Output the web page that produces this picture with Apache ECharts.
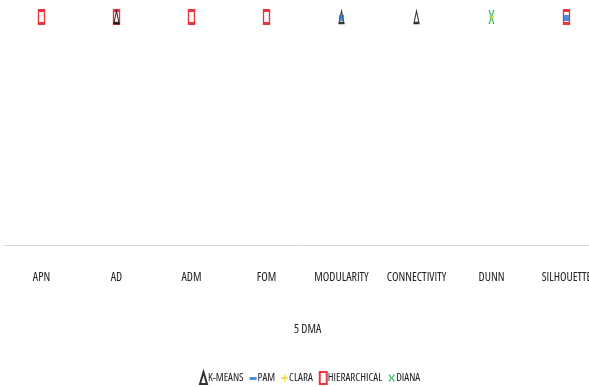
<!DOCTYPE html>
<html>
<head>
<meta charset="utf-8">
<script src="https://cdn.jsdelivr.net/npm/echarts@6/dist/echarts.min.js"></script>
<style>
	html, body { margin: 0; padding: 0; background: #fff; }
	#chart { width: 589px; height: 387px; }
</style>
</head>
<body>
<div id="chart"></div>
<script>
// categories on the x axis
const categories = ['APN', 'AD', 'ADM', 'FOM', 'MODULARITY', 'CONNECTIVITY', 'DUNN', 'SILHOUETTE'];

// which method wins each measure (1 = best), null = not shown
const kmeans       = [null, 1, null, null, 1, 1, null, null];
const pam          = [null, null, null, null, 1, null, null, 1];
const clara        = [null, null, null, null, null, null, 1, null];
const hierarchical = [1, 1, 1, 1, null, null, null, 1];
const diana        = [null, null, null, null, null, null, 1, null];

const chartTitle = '5 DMA';
const font = "'Open Sans'";
// 'condensed' ends up in the canvas font string -> Open Sans Condensed face
const stretch = 'condensed';

const plusPath = 'path://M4,0H6V4H10V6H6V10H4V6H0V4H4Z';
const crossPath = 'path://M0,0H2.5L5,4.2L7.5,0H10L6.3,5L10,10H7.5L5,5.8L2.5,10H0L3.7,5Z';
// flat bar for the PAM legend icon (the move-tos keep the box tall)
const barIcon = 'path://M0,0M7,12M0,5H7V8H0Z';

const myChart = echarts.init(document.getElementById('chart'));

let option = {
	animation: false,
	title: {
		text: chartTitle,
		left: 289,
		top: 319,
		textStyle: {
			fontFamily: font,
			fontStyle: stretch,
			fontSize: 12,
			fontWeight: 'normal',
			color: '#222'
		}
	},
	legend: {
		left: 194,
		top: 366,
		itemWidth: 7,
		itemHeight: 12,
		itemGap: 6,
		textStyle: {
			fontFamily: font,
			fontStyle: stretch,
			fontSize: 11,
			color: '#222',
			padding: [0, 0, 0, -4]
		},
		data: [
			{ name: 'K-MEANS', icon: 'triangle' },
			{ name: 'PAM', icon: barIcon },
			{ name: 'CLARA', icon: plusPath },
			{ name: 'HIERARCHICAL', icon: 'rect' },
			{ name: 'DIANA', icon: crossPath }
		]
	},
	grid: {
		left: 4,
		right: -15,
		top: 17,
		bottom: 142,
		outerBoundsMode: 'none'
	},
	xAxis: {
		type: 'category',
		data: categories,
		boundaryGap: true,
		axisLine: { lineStyle: { color: '#d9d9d9', width: 1 } },
		axisTick: { show: false },
		axisLabel: {
			margin: 27,
			interval: 0,
			fontFamily: font,
			fontStyle: stretch,
			fontSize: 12,
			color: '#222'
		}
	},
	yAxis: {
		type: 'value',
		min: 0,
		max: 1,
		show: false
	},
	series: [
		{
			name: 'HIERARCHICAL',
			type: 'scatter',
			z: 1,
			symbol: 'rect',
			symbolSize: [6, 13],
			itemStyle: { color: '#fff', borderColor: '#e8000b', borderWidth: 2 },
			data: hierarchical
		},
		{
			name: 'DIANA',
			type: 'scatter',
			z: 2,
			symbol: crossPath,
			symbolSize: [6, 14],
			itemStyle: { color: '#14a838' },
			data: diana
		},
		{
			name: 'K-MEANS',
			type: 'scatter',
			z: 3,
			symbol: 'triangle',
			symbolSize: [5, 12],
			itemStyle: { color: '#fff', borderColor: '#000', borderWidth: 1.5 },
			data: kmeans
		},
		{
			name: 'PAM',
			type: 'scatter',
			z: 4,
			symbol: 'rect',
			symbolSize: [5, 6],
			symbolOffset: [0, 1],
			itemStyle: { color: '#1f6fd0' },
			data: pam
		},
		{
			name: 'CLARA',
			type: 'scatter',
			z: 5,
			symbol: plusPath,
			symbolSize: [5, 7],
			itemStyle: { color: '#f5c400' },
			data: clara
		}
	]
};

myChart.setOption(option);
</script>
</body>
</html>
